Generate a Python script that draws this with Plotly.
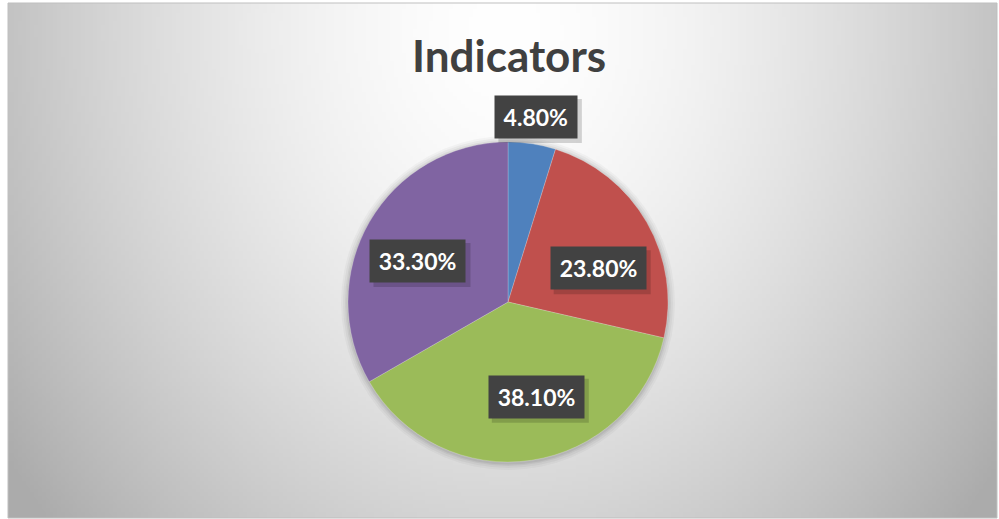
import base64, struct, zlib, math
import numpy as np
import plotly.graph_objects as go

# ---- data ----
categories = ["Indicator 1", "Indicator 2", "Indicator 3", "Indicator 4"]
values = [4.8, 23.8, 38.1, 33.3]
colors = ["#4F81BD", "#C0504D", "#9BBB59", "#8064A2"]
title_text = "Indicators"

# ---- style / layout ----
W, H = 999, 519
fx0, fy0, fx1, fy1 = 8, 3, 997, 518          # chart frame (pixels)
cx, cy, R = 508, 302, 160                    # pie geometry (pixels)
label_nudge = [(0, 0), (0, -18), (13, 8), (0, -11)]   # pixel nudges (xshift, yshift)
PAD, BOXH = 7, 28


def png_gray(arr):
    h, w = arr.shape
    raw = b"".join(b"\x00" + arr[i].astype(np.uint8).tobytes() for i in range(h))
    def chunk(t, d):
        c = struct.pack(">I", len(d)) + t + d
        return c + struct.pack(">I", zlib.crc32(t + d) & 0xffffffff)
    png = b"\x89PNG\r\n\x1a\n" + chunk(b"IHDR", struct.pack(">IIBBBBB", w, h, 8, 0, 0, 0, 0))
    png += chunk(b"IDAT", zlib.compress(raw, 9)) + chunk(b"IEND", b"")
    return "data:image/png;base64," + base64.b64encode(png).decode()

# background radial gradient
gw, gh = 250, 130
xs = np.linspace(fx0, fx1, gw)
ys = np.linspace(fy0, fy1, gh)
X, Y = np.meshgrid(xs, ys)
r = np.sqrt(((X - 505) / 510) ** 2 + ((Y - 30) / 620) ** 2)
g = 255 - 62 * np.clip(r, 0, 1.2) ** 1.6
bg = png_gray(np.clip(g, 0, 255))

fig = go.Figure()
fig.add_trace(go.Pie(
    labels=categories, values=values, sort=False, direction="clockwise", rotation=0,
    marker=dict(colors=colors, line=dict(color="rgba(255,255,255,0.35)", width=0.6)),
    textinfo="none", hoverinfo="label+percent", showlegend=False,
    domain=dict(x=[(cx - R) / W, (cx + R) / W], y=[1 - (cy + R) / H, 1 - (cy - R) / H]),
))

shapes = [dict(type="rect", xref="paper", yref="paper", x0=fx0 / W, x1=fx1 / W,
               y0=1 - fy1 / H, y1=1 - fy0 / H, line=dict(color="#BFBFBF", width=1),
               layer="below")]
# soft shadow around the pie
for extra, a in [(7, 0.03), (5, 0.04), (3, 0.05), (1.5, 0.06)]:
    shapes.append(dict(type="circle", xref="paper", yref="paper",
                       x0=(cx - R - extra) / W, x1=(cx + R + extra) / W,
                       y0=1 - (cy + R + extra + 1) / H, y1=1 - (cy - R - extra + 1) / H,
                       fillcolor=f"rgba(0,0,0,{a})", line=dict(width=0), layer="below"))

annotations = []
total = sum(values)
cum = 0.0
for v, (nx, ny) in zip(values, label_nudge):
    mid = (cum + v / 2) / total * 2 * math.pi
    cum += v
    rf = 1.17 if v / total < 0.1 else 0.65
    px = cx + rf * R * math.sin(mid)
    py = cy - rf * R * math.cos(mid)
    txt = f"{v:.2f}%"
    bw = len(txt) * 13.5
    # drop shadow of the label box
    hw, hh = bw / 2 + PAD + 1, BOXH / 2 + PAD + 1
    shapes.append(dict(type="rect", xref="paper", yref="paper", xsizemode="pixel", ysizemode="pixel",
                       xanchor=px / W, yanchor=1 - py / H,
                       x0=-hw + nx + 4, x1=hw + nx + 4, y0=-hh + ny - 4, y1=hh + ny - 4,
                       fillcolor="rgba(0,0,0,0.16)", line=dict(width=0), layer="above"))
    annotations.append(dict(x=px / W, y=1 - py / H, xref="paper", yref="paper", showarrow=False,
                            xanchor="center", yanchor="middle", borderpad=PAD, text=txt,
                            width=bw, height=BOXH, align="center", xshift=nx, yshift=ny,
                            font=dict(family="Lato", size=23, color="white", weight="bold"),
                            bgcolor="#424242"))

annotations.append(dict(x=508.5 / W, y=1 - 55 / H, xref="paper", yref="paper", showarrow=False,
                        text=title_text, xanchor="center", yanchor="middle",
                        font=dict(family="Lato", size=44, color="#404040", weight="bold")))

fig.update_layout(
    width=W, height=H, margin=dict(l=0, r=0, t=0, b=0),
    paper_bgcolor="white", plot_bgcolor="white",
    images=[dict(source=bg, xref="paper", yref="paper", x=fx0 / W, y=1 - fy0 / H,
                 sizex=(fx1 - fx0) / W, sizey=(fy1 - fy0) / H, sizing="stretch",
                 xanchor="left", yanchor="top", layer="below")],
    shapes=shapes,
    annotations=annotations,
)

fig.write_html("out.html", config={"displayModeBar": False},
               post_script="document.body.style.margin='0px';document.body.style.overflow='hidden';")
